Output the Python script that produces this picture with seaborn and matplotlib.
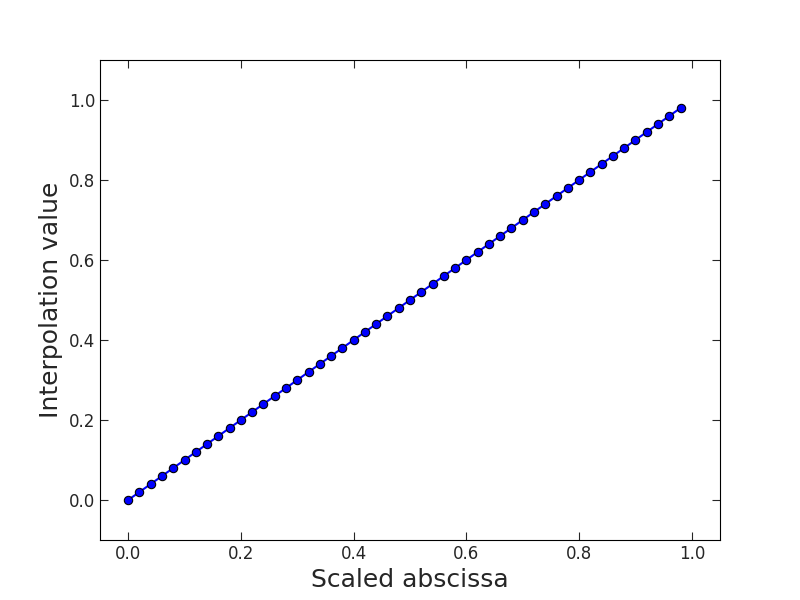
import matplotlib
matplotlib.use("Agg")
import matplotlib.pyplot as plt
import seaborn as sns
import pandas as pd

scaled_abscissa = [0.00, 0.02, 0.04, 0.06, 0.08, 0.10, 0.12, 0.14, 0.16, 0.18,
                   0.20, 0.22, 0.24, 0.26, 0.28, 0.30, 0.32, 0.34, 0.36, 0.38,
                   0.40, 0.42, 0.44, 0.46, 0.48, 0.50, 0.52, 0.54, 0.56, 0.58,
                   0.60, 0.62, 0.64, 0.66, 0.68, 0.70, 0.72, 0.74, 0.76, 0.78,
                   0.80, 0.82, 0.84, 0.86, 0.88, 0.90, 0.92, 0.94, 0.96, 0.98]
interp_values = [0.00, 0.02, 0.04, 0.06, 0.08, 0.10, 0.12, 0.14, 0.16, 0.18,
                 0.20, 0.22, 0.24, 0.26, 0.28, 0.30, 0.32, 0.34, 0.36, 0.38,
                 0.40, 0.42, 0.44, 0.46, 0.48, 0.50, 0.52, 0.54, 0.56, 0.58,
                 0.60, 0.62, 0.64, 0.66, 0.68, 0.70, 0.72, 0.74, 0.76, 0.78,
                 0.80, 0.82, 0.84, 0.86, 0.88, 0.90, 0.92, 0.94, 0.96, 0.98]

df = pd.DataFrame({"x": scaled_abscissa, "y": interp_values})

sns.set_style("ticks", {"xtick.direction": "in", "ytick.direction": "in"})
plt.rcParams["font.family"] = ["DejaVu Sans"]

fig, ax = plt.subplots(figsize=(8, 6), dpi=100)
sns.lineplot(data=df, x="x", y="y", ax=ax, color="blue", linewidth=1.5,
             marker="o", markersize=6, markerfacecolor="blue",
             markeredgecolor="black", markeredgewidth=0.8)

ax.set_xlim(-0.05, 1.05)
ax.set_ylim(-0.1, 1.1)
ax.set_xticks([0.0, 0.2, 0.4, 0.6, 0.8, 1.0])
ax.set_yticks([0.0, 0.2, 0.4, 0.6, 0.8, 1.0])
ax.tick_params(top=True, right=True, direction="in", length=6, labelsize=12)
for s in ax.spines.values():
    s.set_visible(True)
    s.set_color("black")
ax.set_xlabel("Scaled abscissa", fontsize=18)
ax.set_ylabel("Interpolation value", fontsize=18)

fig.subplots_adjust(left=0.125, right=0.9, bottom=0.1, top=0.9)
fig.savefig("out.png", dpi=100)
